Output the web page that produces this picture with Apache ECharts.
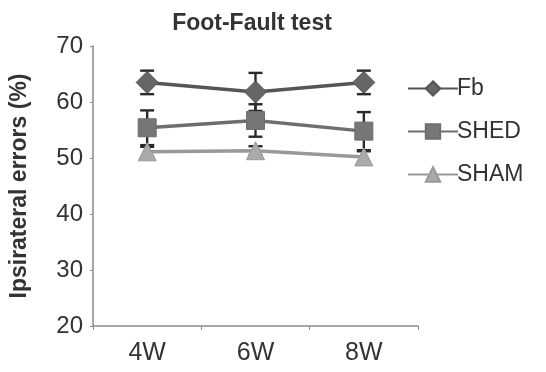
<!DOCTYPE html>
<html>
<head>
<meta charset="utf-8">
<script src="https://cdn.jsdelivr.net/npm/echarts@6/dist/echarts.min.js"></script>
<style>
  html, body { margin: 0; padding: 0; background: #fff; }
  #chart { width: 546px; height: 372px; }
</style>
</head>
<body>
<div id="chart"></div>
<script>
const weeks = ['4W', '6W', '8W'];
const fbMean = [63.5, 61.8, 63.5];
const fbErr = [2.1, 3.4, 2.1];
const shedMean = [55.4, 56.7, 54.8];
const shedErr = [3.1, 2.9, 3.4];
const shamMean = [51.1, 51.3, 50.2];
const shamErr = [0.9, 0.8, 1.0];
const yTicks = [20, 30, 40, 50, 60, 70];

const chart = echarts.init(document.getElementById('chart'));

// error bar series drawn under the markers
function errorSeries(mean, err) {
    return {
        type: 'custom',
        z: 1,
        silent: true,
        data: weeks.map((w, i) => [i, mean[i] - err[i], mean[i] + err[i]]),
        renderItem(params, api) {
            const lo = api.coord([api.value(0), api.value(1)]);
            const hi = api.coord([api.value(0), api.value(2)]);
            const half = 7;
            const style = {stroke: '#2a2a2a', lineWidth: 2.4};
            return {
                type: 'group',
                children: [
                    {type: 'line', shape: {x1: lo[0], y1: lo[1], x2: hi[0], y2: hi[1]}, style},
                    {type: 'line', shape: {x1: lo[0] - half, y1: lo[1], x2: lo[0] + half, y2: lo[1]}, style},
                    {type: 'line', shape: {x1: hi[0] - half, y1: hi[1], x2: hi[0] + half, y2: hi[1]}, style}
                ]
            };
        }
    };
}

function lineSeries(name, data, symbol, size, lineColor, markColor) {
    return {
        name,
        type: 'line',
        z: 3,
        data,
        symbol,
        symbolSize: size,
        lineStyle: {color: lineColor, width: 3.5},
        itemStyle: {color: markColor, borderColor: lineColor, borderWidth: 1},
        emphasis: {disabled: true}
    };
}

const option = {
    animation: false,
    textStyle: {fontFamily: 'Liberation Sans, Arial, sans-serif'},
    title: {
        text: 'Foot-Fault test',
        left: 247,
        textAlign: 'center',
        top: 7,
        textStyle: {fontSize: 23, fontWeight: 'bold', color: '#333'}
    },
    grid: {left: 87, right: 128, top: 46, bottom: 46},
    legend: {
        orient: 'vertical',
        left: 402,
        top: 72,
        itemGap: 20,
        itemWidth: 50,
        itemHeight: 18,
        textStyle: {fontSize: 23, color: '#333', padding: [0, 0, 0, -6]},
        data: ['Fb', 'SHED', 'SHAM']
    },
    xAxis: {
        type: 'category',
        data: weeks,
        axisLine: {lineStyle: {color: '#8a8a8a', width: 1.5}},
        axisTick: {show: true, length: 4, lineStyle: {color: '#8a8a8a'}},
        axisLabel: {fontSize: 25, color: '#333', margin: 15}
    },
    yAxis: {
        type: 'value',
        min: yTicks[0],
        max: yTicks[yTicks.length - 1],
        interval: 10,
        name: 'Ipsirateral errors (%)',
        nameLocation: 'middle',
        nameGap: 62,
        nameRotate: 90,
        nameTextStyle: {fontSize: 23, fontWeight: 'bold', color: '#333'},
        splitLine: {show: false},
        axisLine: {show: true, lineStyle: {color: '#8a8a8a', width: 1.5}},
        axisTick: {show: true, length: 3, lineStyle: {color: '#8a8a8a'}},
        axisLabel: {fontSize: 24, color: '#333', margin: 10}
    },
    series: [
        errorSeries(fbMean, fbErr),
        errorSeries(shedMean, shedErr),
        errorSeries(shamMean, shamErr),
        lineSeries('Fb', fbMean, 'diamond', 22, '#555', '#666'),
        lineSeries('SHED', shedMean, 'rect', 18, '#6e6e6e', '#777'),
        lineSeries('SHAM', shamMean, 'triangle', 18, '#999', '#aaa')
    ]
};
chart.setOption(option);
</script>
</body>
</html>
